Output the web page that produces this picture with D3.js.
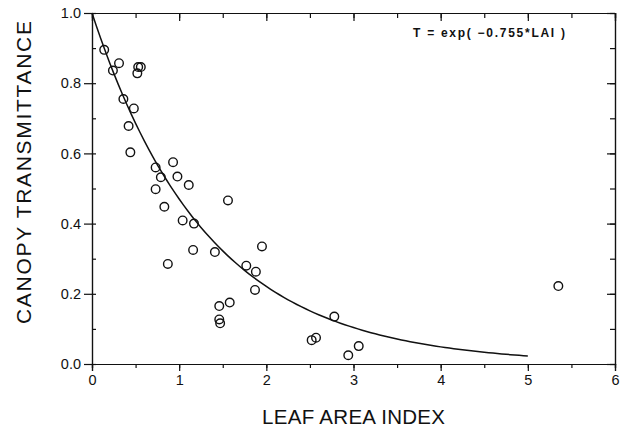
<!DOCTYPE html>
<head>
  <meta charset="utf-8" />
  <script src="https://d3js.org/d3.v7.min.js"></script>
  <style>
    body { margin: 0; background: #fff; }
    svg { font-family: "Liberation Sans", Arial, sans-serif; }
    .axis path, .axis line { stroke: #111; stroke-width: 1.2; }
    .axis text { font-size: 14.5px; fill: #111; }
  </style>
</head>
<body>
  <svg width="620" height="432"></svg>
  <script>
    // measured LAI vs canopy transmittance
    var lai = [0.14, 0.31, 0.24, 0.53, 0.56, 0.52, 0.36, 0.48, 0.42, 0.44,
               0.73, 0.93, 0.79, 0.98, 0.73, 1.11, 0.83, 1.56, 1.04, 1.17,
               1.16, 1.41, 1.95, 0.87, 1.77, 1.88, 1.87, 1.58, 1.46, 1.46,
               1.47, 2.78, 2.52, 2.57, 2.94, 3.06, 5.35];
    var trans = [0.895, 0.857, 0.836, 0.846, 0.846, 0.828, 0.755, 0.728, 0.678, 0.603,
                 0.560, 0.575, 0.532, 0.534, 0.498, 0.510, 0.448, 0.466, 0.409, 0.400,
                 0.325, 0.319, 0.335, 0.285, 0.280, 0.263, 0.211, 0.175, 0.165, 0.127,
                 0.116, 0.135, 0.068, 0.075, 0.025, 0.051, 0.222];
    var fitK = 0.755;
    var xTicks = [0, 1, 2, 3, 4, 5, 6];
    var yTicks = [0.0, 0.2, 0.4, 0.6, 0.8, 1.0];

    var margin = { top: 13, right: 5, bottom: 68, left: 92 };
    var width = 615 - margin.left;
    var height = 364 - margin.top;

    var svg = d3.select("svg").append("g")
      .attr("transform", "translate(" + margin.left + "," + margin.top + ")");

    var x = d3.scaleLinear().domain([0, 6]).range([0, width]);
    var y = d3.scaleLinear().domain([0, 1]).range([height, 0]);

    var xMinor = d3.range(0, 6.01, 0.5);
    var yMinor = d3.range(0, 1.001, 0.1);

    // minor ticks
    svg.append("g").attr("class", "axis").attr("transform", "translate(0," + height + ")")
      .call(d3.axisBottom(x).tickValues(xMinor).tickSize(4).tickFormat(""));
    svg.append("g").attr("class", "axis")
      .call(d3.axisLeft(y).tickValues(yMinor).tickSize(-4).tickFormat(""));
    svg.append("g").attr("class", "axis")
      .call(d3.axisTop(x).tickValues(xMinor).tickSize(-5).tickFormat(""));
    svg.append("g").attr("class", "axis").attr("transform", "translate(" + width + ",0)")
      .call(d3.axisRight(y).tickValues(yMinor).tickSize(-5).tickFormat(""));

    // major ticks with labels
    svg.append("g").attr("class", "axis").attr("transform", "translate(0," + height + ")")
      .call(d3.axisBottom(x).tickValues(xTicks).tickSize(7).tickPadding(4).tickFormat(d3.format("d")));
    svg.append("g").attr("class", "axis")
      .call(d3.axisLeft(y).tickValues(yTicks).tickSize(8).tickPadding(3).tickFormat(d3.format(".1f")));
    svg.append("g").attr("class", "axis")
      .call(d3.axisTop(x).tickValues(xTicks).tickSize(-8).tickFormat(""));
    svg.append("g").attr("class", "axis").attr("transform", "translate(" + width + ",0)")
      .call(d3.axisRight(y).tickValues(yTicks).tickSize(-8).tickFormat(""));

    svg.selectAll(".axis .domain").attr("stroke-width", 1.4);

    // fitted curve
    var fit = d3.range(0, 5.001, 0.05).map(function (v) { return [v, Math.exp(-fitK * v)]; });
    svg.append("path")
      .datum(fit)
      .attr("fill", "none")
      .attr("stroke", "#111")
      .attr("stroke-width", 1.5)
      .attr("d", d3.line().x(function (d) { return x(d[0]); }).y(function (d) { return y(d[1]); }));

    // data points
    svg.selectAll("circle.pt")
      .data(lai)
      .enter()
      .append("circle")
      .attr("class", "pt")
      .attr("cx", function (d) { return x(d); })
      .attr("cy", function (d, i) { return y(trans[i]); })
      .attr("r", 4.3)
      .attr("fill", "none")
      .attr("stroke", "#111")
      .attr("stroke-width", 1.4);

    svg.append("text")
      .attr("x", 413 - margin.left)
      .attr("y", 37 - margin.top)
      .attr("font-size", 12)
      .attr("font-weight", "bold")
      .attr("textLength", 152)
      .attr("fill", "#111")
      .text("T = exp( \u22120.755*LAI )");

    // axis titles
    svg.append("text")
      .attr("x", 262 - margin.left)
      .attr("y", 424 - margin.top)
      .attr("font-size", 20.5)
      .attr("textLength", 183)
      .attr("fill", "#111")
      .text("LEAF AREA INDEX");

    svg.append("text")
      .attr("transform", "translate(" + (31 - margin.left) + "," + (324 - margin.top) + ") rotate(-90)")
      .attr("font-size", 21)
      .attr("textLength", 303)
      .attr("fill", "#111")
      .text("CANOPY TRANSMITTANCE");
  </script>
</body>
